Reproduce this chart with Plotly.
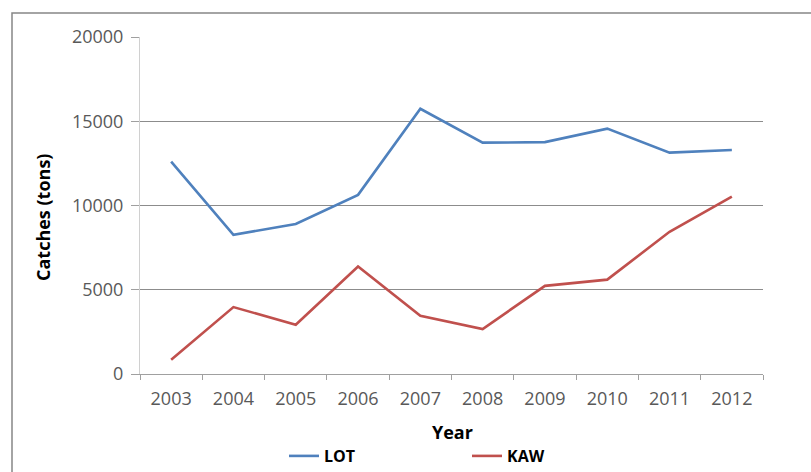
import plotly.graph_objects as go

years = ["2003", "2004", "2005", "2006", "2007", "2008", "2009", "2010", "2011", "2012"]
lot_catches = [12600, 8260, 8900, 10630, 15740, 13730, 13760, 14560, 13140, 13290]
kaw_catches = [850, 3970, 2920, 6380, 3460, 2670, 5230, 5600, 8440, 10530]
y_ticks = [0, 5000, 10000, 15000, 20000]
y_tick_labels = ["0", "5000", "10000", "15000", "20000"]

W, H = 811, 472
L, R, T, B = 140, 48, 37, 98
pw, ph = W - L - R, H - T - B


def px_x(px):
    return (px - L) / pw


def px_y(py):
    return (H - B - py) / ph


FONT = "Open Sans"
TICK_COLOR = "#595959"

fig = go.Figure()
fig.add_trace(go.Scatter(x=years, y=lot_catches, name="<b>LOT</b>", mode="lines",
                         line=dict(color="#4F81BD", width=2.6)))
fig.add_trace(go.Scatter(x=years, y=kaw_catches, name="<b>KAW</b>", mode="lines",
                         line=dict(color="#C0504D", width=2.6)))

fig.update_layout(
    width=W, height=H,
    margin=dict(l=L, r=R, t=T, b=B, autoexpand=False),
    paper_bgcolor="white", plot_bgcolor="white",
    showlegend=True,
    legend=dict(orientation="h", x=px_x(284), xanchor="left",
                y=px_y(456), yanchor="middle",
                font=dict(family=FONT, size=16, color="#000000"),
                entrywidth=138, entrywidthmode="pixels",
                bgcolor="rgba(0,0,0,0)"),
    xaxis=dict(type="category", tickson="boundaries", ticks="outside",
               ticklen=5, tickcolor="#A0A0A0", showgrid=False,
               showline=True, linecolor="#A0A0A0", linewidth=1,
               tickfont=dict(family=FONT, size=18, color=TICK_COLOR),
               ticklabelstandoff=8,
               range=[-0.5, 9.5], fixedrange=True),
    yaxis=dict(range=[0, 20000], tickvals=y_ticks, ticktext=y_tick_labels,
               ticks="outside", ticklen=8, tickcolor="#A0A0A0", showgrid=True,
               gridcolor="#8C8C8C", gridwidth=1, zeroline=False,
               showline=True, linecolor="#D0D0D0", linewidth=1,
               tickfont=dict(family=FONT, size=18, color=TICK_COLOR),
               ticklabelstandoff=4, fixedrange=True),
)

# axis titles
fig.add_annotation(text="<b>Year</b>", xref="paper", yref="paper",
                   x=px_x(452), y=px_y(432), xanchor="center", yanchor="middle",
                   showarrow=False, font=dict(family=FONT, size=18, color="#000000"))
fig.add_annotation(text="<b>Catches (tons)</b>", xref="paper", yref="paper",
                   x=px_x(43), y=px_y(218), xanchor="center", yanchor="middle",
                   textangle=-90, showarrow=False,
                   font=dict(family=FONT, size=18, color="#000000"))

# chart frame
fig.add_shape(type="rect", xref="paper", yref="paper",
              x0=px_x(12), x1=px_x(830), y0=px_y(490), y1=px_y(13),
              line=dict(color="#868686", width=1.5), layer="below")

fig.write_html("out.html")
